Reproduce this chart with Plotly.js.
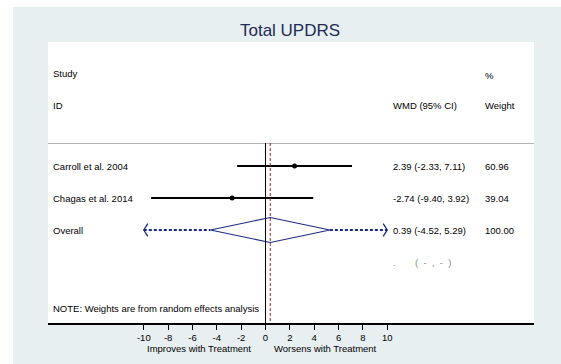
<!DOCTYPE html>
<html><head><meta charset="utf-8">
<script src="https://cdn.plot.ly/plotly-3.0.1.min.js"></script>
<style>html,body{margin:0;padding:0;background:#fff}#c{width:561px;height:364px}</style>
</head><body><div id="c"></div>
<script>
// ---- data ----
const studies = ["Carroll et al. 2004", "Chagas et al. 2014"];
const wmd = [2.39, -2.74];
const lower = [-2.33, -9.40];
const upper = [7.11, 3.92];
const weights = ["60.96", "39.04"];
const overallLabel = "Overall";
const overallWmd = 0.39;
const overallLower = -4.52;
const overallUpper = 5.29;
const overallWeight = "100.00";
const tickVals = [-10, -8, -6, -4, -2, 0, 2, 4, 6, 8, 10];
const axisMin = -10, axisMax = 10;

// ---- geometry helpers (pixels of the 561x364 figure) ----
const L = 48, R = 534, T = 42, B = 323;
const x0px = 265.5, xs = 12.17;     // px of 0 and px per unit
const y0px = 134, ys = 32;          // row index -> px
const xr = [(L - x0px) / xs, (R - x0px) / xs];
const yr = [(B - y0px) / ys, (T - y0px) / ys];
const rowY = py => (py - y0px) / ys;
const px2paperX = px => (px - L) / (R - L);
const px2paperY = py => (B - py) / (B - T);

const fontTxt = {family: "Liberation Sans, Arial, sans-serif", size: 9.5, color: "#000"};
const navy = "#1a2a80";

const traces = [];
// study CIs and points
traces.push({
  type: "scatter", mode: "markers",
  x: wmd, y: studies.map((s, i) => i + 1),
  marker: {color: "#000", size: 5},
  error_x: {type: "data", symmetric: false,
    array: upper.map((u, i) => u - wmd[i]),
    arrayminus: lower.map((l, i) => wmd[i] - l),
    color: "#000", thickness: 2, width: 0},
  hoverinfo: "skip", showlegend: false
});
// overall diamond
const oy = studies.length + 1, dh = 0.39;
traces.push({
  type: "scatter", mode: "lines",
  x: [overallLower, overallWmd, overallUpper, overallWmd, overallLower],
  y: [oy, oy - dh, oy, oy + dh, oy],
  line: {color: navy, width: 1.1}, hoverinfo: "skip", showlegend: false
});
// dashed extensions to axis limits
traces.push({
  type: "scatter", mode: "lines",
  x: [axisMin, overallLower], y: [oy, oy],
  line: {color: navy, width: 2.2, dash: "3px,2px"}, hoverinfo: "skip", showlegend: false
});
traces.push({
  type: "scatter", mode: "lines",
  x: [overallUpper, axisMax], y: [oy, oy],
  line: {color: navy, width: 2.2, dash: "3px,2px"}, hoverinfo: "skip", showlegend: false
});
// arrow chevrons
const cw = 0.33, ch = 0.2;
traces.push({
  type: "scatter", mode: "lines",
  x: [axisMin + cw, axisMin, axisMin + cw], y: [oy - ch, oy, oy + ch],
  line: {color: navy, width: 1.3}, hoverinfo: "skip", showlegend: false
});
traces.push({
  type: "scatter", mode: "lines",
  x: [axisMax - cw, axisMax, axisMax - cw], y: [oy - ch, oy, oy + ch],
  line: {color: navy, width: 1.3}, hoverinfo: "skip", showlegend: false
});

const ann = [];
const addTxt = (txt, px, yData, opts) => ann.push(Object.assign({
  text: txt, xref: "paper", yref: "y", x: px2paperX(px), y: yData,
  xanchor: "left", yanchor: "middle", showarrow: false, font: fontTxt, borderpad: 0
}, opts || {}));

addTxt("Study", 52, rowY(73));
addTxt("ID", 52, rowY(105));
addTxt("%", 484, rowY(75));
addTxt("WMD (95% CI)", 392, rowY(105));
addTxt("Weight", 484, rowY(105));
studies.forEach((s, i) => {
  addTxt(s, 52, i + 1);
  addTxt(wmd[i].toFixed(2) + " (" + lower[i].toFixed(2) + ", " + upper[i].toFixed(2) + ")", 392, i + 1);
  addTxt(weights[i], 484, i + 1);
});
addTxt(overallLabel, 52, oy);
addTxt(overallWmd.toFixed(2) + " (" + overallLower.toFixed(2) + ", " + overallUpper.toFixed(2) + ")", 392, oy);
addTxt(overallWeight, 484, oy);
const grey = Object.assign({}, fontTxt, {color: "#8a8a8a"});
addTxt(".", 392, oy + 1, {font: grey});
addTxt("(  -  ,  -  )", 414, oy + 1, {font: grey});
addTxt("NOTE: Weights are from random effects analysis", 52, rowY(308));
// axis direction labels
ann.push({text: "Improves with Treatment", xref: "paper", yref: "paper",
  x: px2paperX(252), y: px2paperY(348), xanchor: "right", yanchor: "middle",
  showarrow: false, font: fontTxt, borderpad: 0});
ann.push({text: "Worsens with Treatment", xref: "paper", yref: "paper",
  x: px2paperX(273), y: px2paperY(348), xanchor: "left", yanchor: "middle",
  showarrow: false, font: fontTxt, borderpad: 0});

const shapes = [
  // header separator
  {type: "line", xref: "paper", yref: "y", x0: 0, x1: 1, y0: rowY(143.5), y1: rowY(143.5),
   line: {color: "#b4b4b4", width: 1}},
  // null line
  {type: "line", xref: "x", yref: "y", x0: 0, x1: 0, y0: rowY(143), y1: yr[0],
   line: {color: "#000", width: 1}},
  // overall effect line
  {type: "line", xref: "x", yref: "y", x0: overallWmd, x1: overallWmd, y0: rowY(143), y1: yr[0],
   line: {color: "#a02828", width: 1, dash: "3px,2px"}},
  // white outer strips
  {type: "rect", xref: "paper", yref: "paper", layer: "above",
   x0: px2paperX(0), x1: px2paperX(561), y0: px2paperY(7), y1: px2paperY(0),
   fillcolor: "#fff", line: {width: 0}},
  {type: "rect", xref: "paper", yref: "paper", layer: "above",
   x0: px2paperX(0), x1: px2paperX(13), y0: px2paperY(364), y1: px2paperY(0),
   fillcolor: "#fff", line: {width: 0}}
];

const layout = {
  width: 561, height: 364,
  margin: {l: L, r: 561 - R, t: T, b: 364 - B, pad: 0},
  paper_bgcolor: "#e8eff1", plot_bgcolor: "#ffffff",
  title: {text: "Total UPDRS", x: 0.517, xanchor: "center", y: 1 - 30 / 364, yanchor: "middle",
    font: {family: "Liberation Sans, Arial, sans-serif", size: 17, color: "#1e2b55"}},
  xaxis: {range: xr, tickvals: tickVals, ticktext: tickVals.map(String),
    showgrid: false, zeroline: false, showline: true, linecolor: "#000", linewidth: 1.5,
    ticks: "outside", ticklen: 5, tickwidth: 1, tickcolor: "#000",
    tickfont: {family: "Liberation Sans, Arial, sans-serif", size: 9.5, color: "#000"},
    fixedrange: true},
  yaxis: {range: yr, showgrid: false, zeroline: false, showline: false,
    showticklabels: false, ticks: "", fixedrange: true},
  annotations: ann, shapes: shapes, showlegend: false
};

Plotly.newPlot("c", traces, layout, {staticPlot: true});
</script></body></html>
